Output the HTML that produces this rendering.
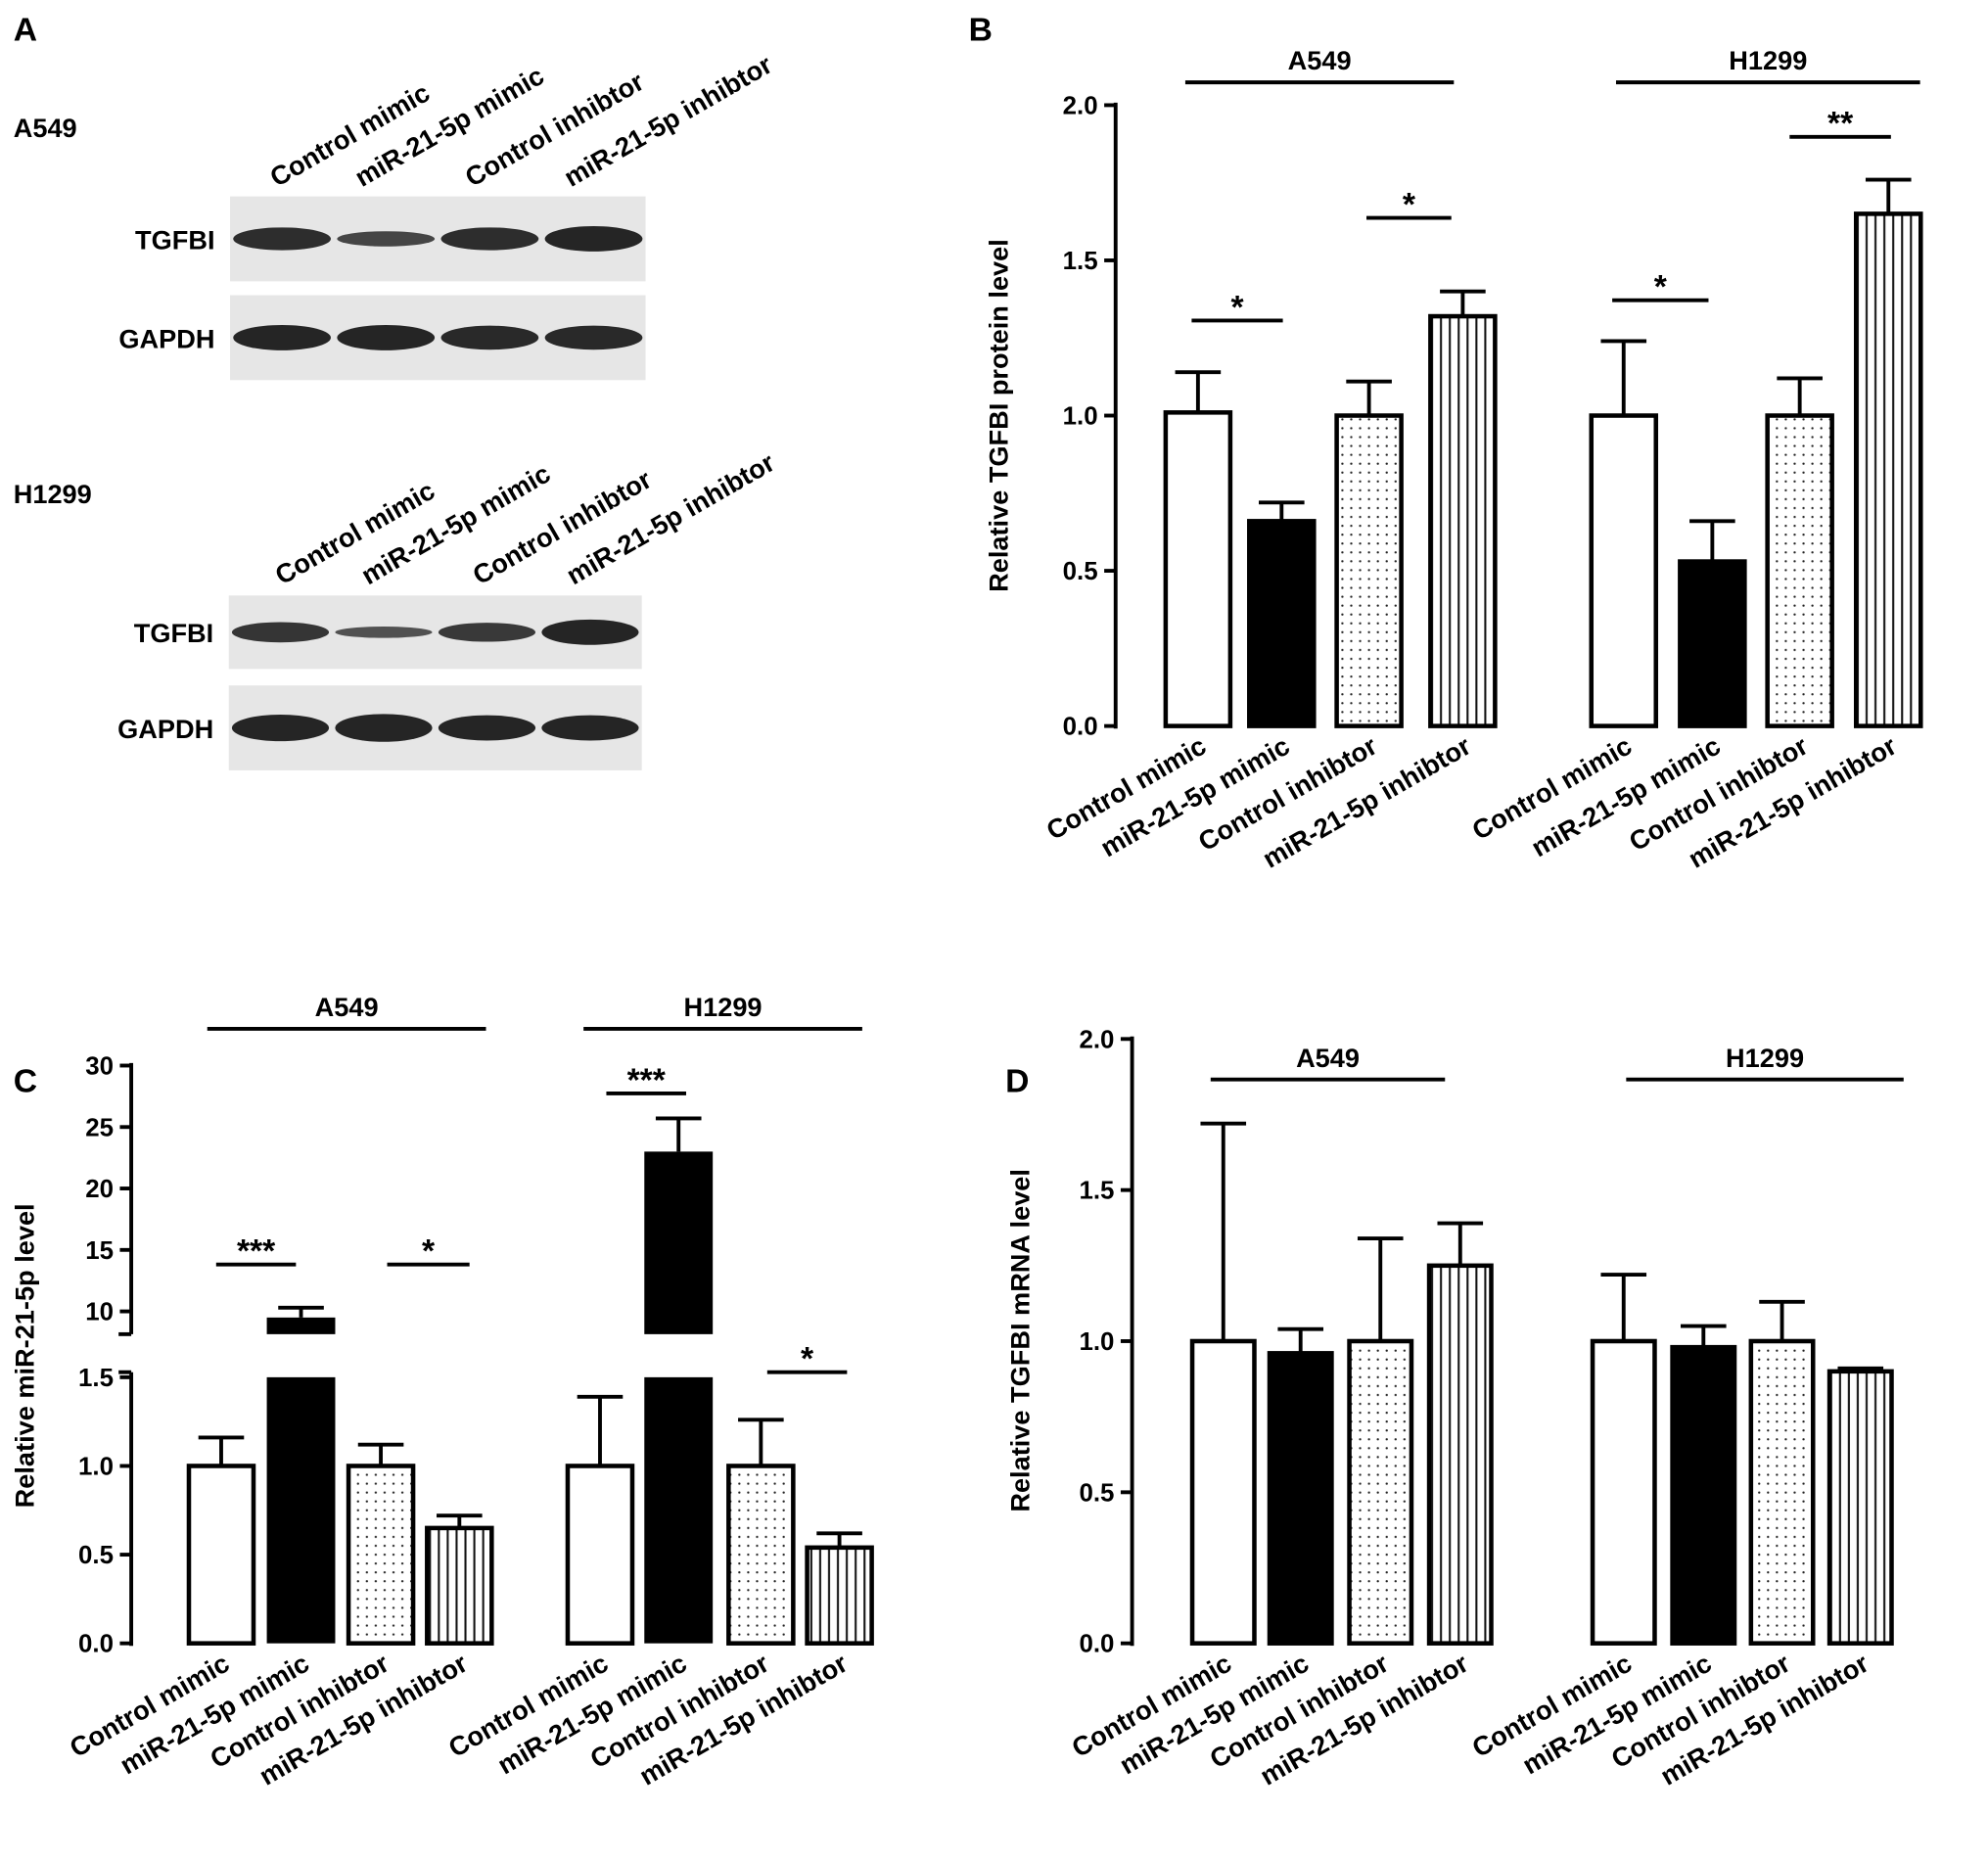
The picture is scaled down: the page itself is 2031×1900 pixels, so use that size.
<!DOCTYPE html>
<html><head><meta charset="utf-8">
<style>
html,body{margin:0;padding:0;background:#fff;}
svg{display:block;font-family:"Liberation Sans",Arial,sans-serif;font-weight:bold;}
</style></head>
<body>
<svg id="fig" width="2031" height="1900" viewBox="0 0 1568 1468" xmlns="http://www.w3.org/2000/svg">
<defs>
<pattern id="dots" width="7" height="7" patternUnits="userSpaceOnUse"><rect width="7" height="7" fill="#fff"/><circle cx="2" cy="2" r="0.9" fill="#222"/></pattern>
<pattern id="vlines" width="7" height="7" patternUnits="userSpaceOnUse"><rect width="7" height="7" fill="#fff"/><rect x="2" width="1.6" height="7" fill="#111"/></pattern>
</defs>
<g id="panelA"></g>
<g id="panelB"></g>
<g id="panelC"></g>
<g id="panelD"></g>
</svg>
<script>
const categories = ["Control mimic","miR-21-5p mimic","Control inhibtor","miR-21-5p inhibtor"];
const groups = ["A549","H1299"];
const protA549 = [1.01,0.66,1.0,1.32];
const protH1299 = [1.0,0.53,1.0,1.65];
const protErrA549 = [0.13,0.06,0.11,0.08];
const protErrH1299 = [0.24,0.13,0.12,0.11];
const mirA549 = [1.0,9.5,1.0,0.65];
const mirH1299 = [1.0,23,1.0,0.54];
const mirErrA549 = [0.16,0.8,0.12,0.07];
const mirErrH1299 = [0.39,2.7,0.26,0.08];
const mrnaA549 = [1.0,0.96,1.0,1.25];
const mrnaH1299 = [1.0,0.98,1.0,0.90];
const mrnaErrA549 = [0.72,0.08,0.34,0.14];
const mrnaErrH1299 = [0.22,0.07,0.13,0.01];
const ticksB = [0,0.5,1.0,1.5,2.0];
const ticksCLow = [0,0.5,1.0,1.5];
const ticksCHigh = [10,15,20,25,30];
const ticksD = [0,0.5,1.0,1.5,2.0];

const NS="http://www.w3.org/2000/svg";
const fills=["#fff","#000","url(#dots)","url(#vlines)"];
function el(parent,tag,attrs,text){const e=document.createElementNS(NS,tag);for(const k in attrs)e.setAttribute(k,attrs[k]);if(text!==undefined)e.textContent=text;parent.appendChild(e);return e;}

function label(g,x,y,t,size,anchor,rot){
  const e=el(g,"text",{x:x,y:y,"font-size":size,"text-anchor":anchor||"start"},t);
  if(rot)e.setAttribute("transform","rotate("+rot+" "+x+" "+y+")");
  return e;
}

function chart(gid,cfg){
  const g=document.getElementById(gid);
  const yv=cfg.y;
  const ax=el(g,"g",{});
  
  
  cfg.axisSegs.forEach(s=>el(ax,"line",{x1:cfg.axX,x2:cfg.axX,y1:s[0],y2:s[1],stroke:"#000","stroke-width":3}));
  cfg.ticks.forEach(t=>{const yy=t[1](t[0]);
    el(ax,"line",{x1:cfg.axX-9,x2:cfg.axX,y1:yy,y2:yy,stroke:"#000","stroke-width":3});
    const tl=label(ax,cfg.axX-14,yy+7,t[2],20,"end");
    
    });
  const yt=label(g,cfg.ytX,cfg.ytY,cfg.ytitle,21,"middle",-90);
  
  
  cfg.series.forEach((ser,gi)=>{
    ser.vals.forEach((v,i)=>{
      const x0=cfg.bx[gi][i], w=cfg.bw;
      const top=yv(v), eTop=yv(v+ser.err[i]);
      const cx=x0+w/2;
      const eb=el(g,"line",{x1:cx,x2:cx,y1:top,y2:eTop,stroke:"#000","stroke-width":3});
      
      
      el(g,"line",{x1:cx-18,x2:cx+18,y1:eTop,y2:eTop,stroke:"#000","stroke-width":3});
      if(cfg.brk && v>cfg.brk.lo){
        const r1=el(g,"rect",{x:x0,y:cfg.brk.yLoTop,width:w,height:cfg.y0-cfg.brk.yLoTop,fill:"#000"});
        
        
        const r2=el(g,"rect",{x:x0,y:top,width:w,height:cfg.brk.yHiBot-top,fill:"#000"});
        
        
      } else {
        const r=el(g,"rect",{x:x0+1.5,y:top,width:w-3,height:cfg.y0-top,fill:fills[i],stroke:"#000","stroke-width":3.5});
        
        
      }
      const xl=label(g,cx+8,cfg.y0+20,categories[i],21,"end",-30);
      
      
    });
    const gl=cfg.groupLines[gi];
    const ln=el(g,"line",{x1:gl[0],x2:gl[1],y1:gl[2],y2:gl[2],stroke:"#000","stroke-width":3});
    
    
    const gt=label(g,(gl[0]+gl[1])/2,gl[2]-10,groups[gi],21,"middle");
    
    
  });
  (cfg.sig||[]).forEach(s=>{
    const l=el(g,"line",{x1:s[0],x2:s[1],y1:s[2],y2:s[2],stroke:"#000","stroke-width":3});
    
    
    const t=label(g,(s[0]+s[1])/2,s[2]-2,s[3],26,"middle");
    
    
  });
  const pl=label(g,cfg.letter[0],cfg.letter[1],cfg.letter[2],26,"start");
  
  
}

const yB=v=>573-v*245;
chart("panelB",{
  y:yB,y0:573,axX:880,axisSegs:[[81,575]],
  ticks:ticksB.map(t=>[t,yB,t.toFixed(1)]),
  ytitle:"Relative TGFBI protein level",ytX:795,ytY:328,
  bx:[[918,984,1053,1127],[1254,1324,1393,1463]],bw:54,
  series:[{vals:protA549,err:protErrA549},{vals:protH1299,err:protErrH1299}],
  groupLines:[[935,1147,65],[1275,1515,65]],
  sig:[[940,1012,253,"*"],[1078,1145,172,"*"],[1272,1348,237,"*"],[1412,1492,108,"**"]],
  letter:[764,32,"B"]
});

const yCLow=v=>1297-v*140;
const yCHigh=v=>1035-(v-10)*9.7;
const yC=v=>v<=1.6?yCLow(v):yCHigh(v);
chart("panelC",{
  y:yC,y0:1297,axX:103,axisSegs:[[839,1053],[1083,1299]],
  ticks:ticksCLow.map(t=>[t,yCLow,t.toFixed(1)]).concat(ticksCHigh.map(t=>[t,yCHigh,String(t)])),
  ytitle:"Relative miR-21-5p level",ytX:26,ytY:1070,
  bx:[[147,210,273,335],[446,508,573,635]],bw:54,
  brk:{lo:1.6,yLoTop:yCLow(1.5),yHiBot:1053},
  series:[{vals:mirA549,err:mirErrA549},{vals:mirH1299,err:mirErrH1299}],
  groupLines:[[163,383,812],[460,680,812]],
  sig:[[170,233,998,"***"],[305,370,998,"*"],[478,541,863,"***"],[605,668,1083,"*"]],
  letter:[10,862,"C"]
});
(function(){const g=document.getElementById("panelC");
 el(g,"line",{x1:93,x2:103,y1:1053,y2:1053,stroke:"#000","stroke-width":3});
 el(g,"line",{x1:93,x2:103,y1:1083,y2:1083,stroke:"#000","stroke-width":3});})();

const yD=v=>1297-v*238.5;
chart("panelD",{
  y:yD,y0:1297,axX:893,axisSegs:[[818,1299]],
  ticks:ticksD.map(t=>[t,yD,t.toFixed(1)]),
  ytitle:"Relative TGFBI mRNA level",ytX:812,ytY:1058,
  bx:[[939,1000,1063,1126],[1255,1318,1380,1442]],bw:52,
  series:[{vals:mrnaA549,err:mrnaErrA549},{vals:mrnaH1299,err:mrnaErrH1299}],
  groupLines:[[955,1140,852],[1283,1502,852]],
  sig:[],
  letter:[793,862,"D"]
});

(function(){
 const g=document.getElementById("panelA");
 const t=label(g,10,32,"A",26,"start");
 
 
 const blots=[
  {cell:"A549",cy:108,lx:[218,285,372,450],ly:148,boxes:[[181,155,328,67,"TGFBI",[0.9,0.6,0.9,1.0]],[181,233,328,67,"GAPDH",[1,1,0.95,0.95]]]},
  {cell:"H1299",cy:397,lx:[222,290,378,452],ly:462,boxes:[[180,470,326,58,"TGFBI",[0.8,0.45,0.75,1.0]],[180,541,326,67,"GAPDH",[1.05,1.1,1,1.0]]]}
 ];
 blots.forEach(b=>{
  const c=label(g,10,b.cy,b.cell,21,"start");
  
  
  b.lx.forEach((x,i)=>{const l=label(g,x,b.ly,categories[i],21,"start",-30);
   
   });
  b.boxes.forEach(bx=>{
   const r=el(g,"rect",{x:bx[0],y:bx[1],width:bx[2],height:bx[3],fill:"#e6e6e6"});
   
   
   const pl=label(g,bx[0]-12,bx[1]+bx[3]/2+8,bx[4],21,"end");
   
   
   const lw=bx[2]/4;
   bx[5].forEach((s,i)=>{
    const band=el(g,"ellipse",{cx:bx[0]+lw*(i+0.5),cy:bx[1]+bx[3]/2,rx:lw*0.47,ry:10*s,fill:"#1a1a1a",opacity:0.55+0.4*Math.min(s,1)});
    
    
   });
  });
 });
})();
</script>
</body></html>
